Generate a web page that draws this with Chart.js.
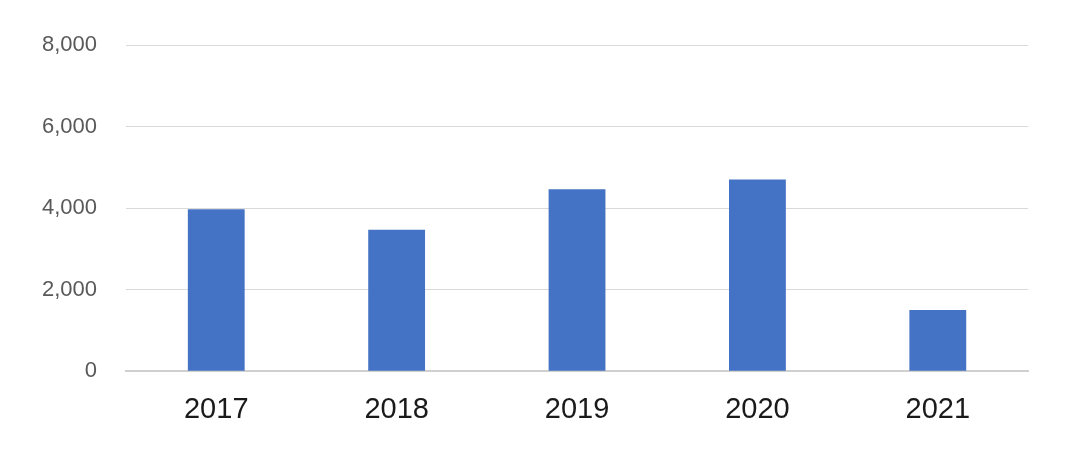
<!DOCTYPE html>
<html>
<head>
<meta charset="utf-8">
<script src="https://cdn.jsdelivr.net/npm/chart.js@4/dist/chart.umd.min.js"></script>
<style>
  body { margin: 0; background: #fff; }
</style>
</head>
<body>
<canvas id="chart" width="1080" height="451"></canvas>
<script>
// data
const years = ['2017', '2018', '2019', '2020', '2021'];
const values = [3970, 3470, 4460, 4700, 1500];
const yTicks = [0, 2000, 4000, 6000, 8000];

const barColor = '#4472C4';

new Chart(document.getElementById('chart'), {
  type: 'bar',
  data: {
    labels: years,
    datasets: [{
      data: values,
      backgroundColor: barColor,
      barPercentage: 1,
      categoryPercentage: 0.315
    }]
  },
  options: {
    responsive: false,
    animation: false,
    layout: { padding: { left: 13, right: 52, top: 45, bottom: 3 } },
    plugins: {
      legend: { display: false },
      tooltip: { enabled: false }
    },
    scales: {
      x: {
        grid: { display: false, drawTicks: false },
        border: { display: true, color: '#d0d0d0', width: 2 },
        ticks: {
          padding: 21,
          color: '#1a1a1a',
          font: { family: '"Liberation Sans", sans-serif', size: 29 }
        }
      },
      y: {
        min: 0,
        max: 8000,
        afterBuildTicks: (axis) => { axis.ticks = yTicks.map(v => ({ value: v })); },
        grid: { color: '#d9d9d9', lineWidth: 1, drawTicks: false },
        border: { display: false },
        ticks: {
          padding: 29,
          color: '#595959',
          font: { family: '"Liberation Sans", sans-serif', size: 22 },
          callback: (v) => v.toLocaleString('en-US')
        }
      }
    }
  }
});
</script>
</body>
</html>
